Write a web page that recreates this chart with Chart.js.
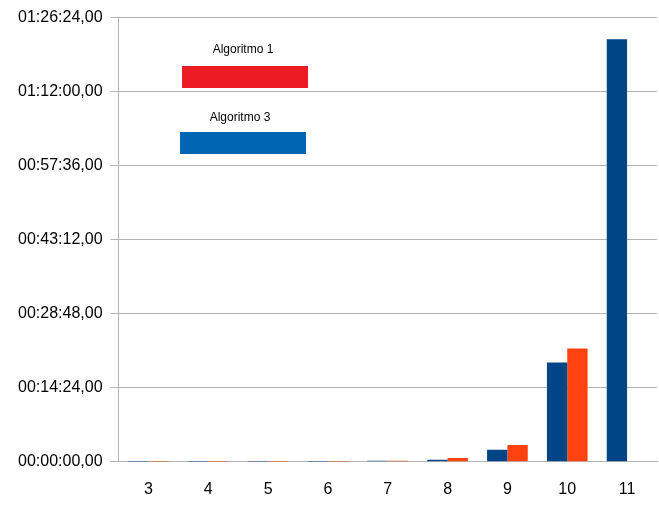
<!DOCTYPE html>
<html>
<head>
<meta charset="utf-8">
<script src="https://cdn.jsdelivr.net/npm/chart.js@4"></script>
<style>
  body { margin: 0; background: #fff; font-family: 'Liberation Sans', Arial, sans-serif; }
  #wrap { position: relative; width: 659px; height: 514px; }
  .lg { position: absolute; font-size: 12px; color: #000; text-align: center; width: 126px; }
  .sw { position: absolute; width: 126px; height: 22px; }
</style>
</head>
<body>
<div id="wrap">
  <canvas id="chart" width="659" height="514"></canvas>
  <div class="lg" style="left:180px;top:42px">Algoritmo 1</div>
  <div class="sw" style="left:182px;top:66px;background:#ed1c24"></div>
  <div class="lg" style="left:177px;top:110px">Algoritmo 3</div>
  <div class="sw" style="left:180px;top:132px;background:#0066b3"></div>
</div>
<script>
// Values in seconds
const categories = ['3', '4', '5', '6', '7', '8', '9', '10', '11'];
const algo1 = [2, 2, 2, 2, 12, 25, 140, 1160, 4930];
const algo3 = [2, 2, 2, 2, 12, 45, 197, 1322, 0];

function fmtTime(v) {
  const h = Math.floor(v / 3600), m = Math.floor((v % 3600) / 60), s = Math.round(v % 60);
  const p = n => String(n).padStart(2, '0');
  return p(h) + ':' + p(m) + ':' + p(s) + ',00';
}

new Chart(document.getElementById('chart'), {
  type: 'bar',
  data: {
    labels: categories,
    datasets: [
      { label: 'Algoritmo 1', data: algo1, backgroundColor: '#004586', categoryPercentage: 0.68, barPercentage: 1 },
      { label: 'Algoritmo 3', data: algo3, backgroundColor: '#ff420e', categoryPercentage: 0.68, barPercentage: 1 }
    ]
  },
  options: {
    responsive: false,
    animation: false,
    layout: { padding: { top: 9, right: 2, bottom: 5, left: 10 } },
    plugins: { legend: { display: false }, tooltip: { enabled: false } },
    scales: {
      x: {
        grid: { display: false },
        border: { color: '#b3b3b3' },
        ticks: { color: '#000', font: { family: "'Liberation Sans', sans-serif", size: 16 }, padding: 10 }
      },
      y: {
        min: 0, max: 5184,
        afterBuildTicks: axis => { axis.ticks = [0, 864, 1728, 2592, 3456, 4320, 5184].map(v => ({ value: v })); },
        grid: { color: '#b3b3b3', tickLength: 8 },
        border: { color: '#b3b3b3' },
        ticks: { color: '#000', font: { family: "'Liberation Sans', sans-serif", size: 16 }, callback: v => fmtTime(v), padding: 8 }
      }
    }
  }
});
</script>
</body>
</html>
